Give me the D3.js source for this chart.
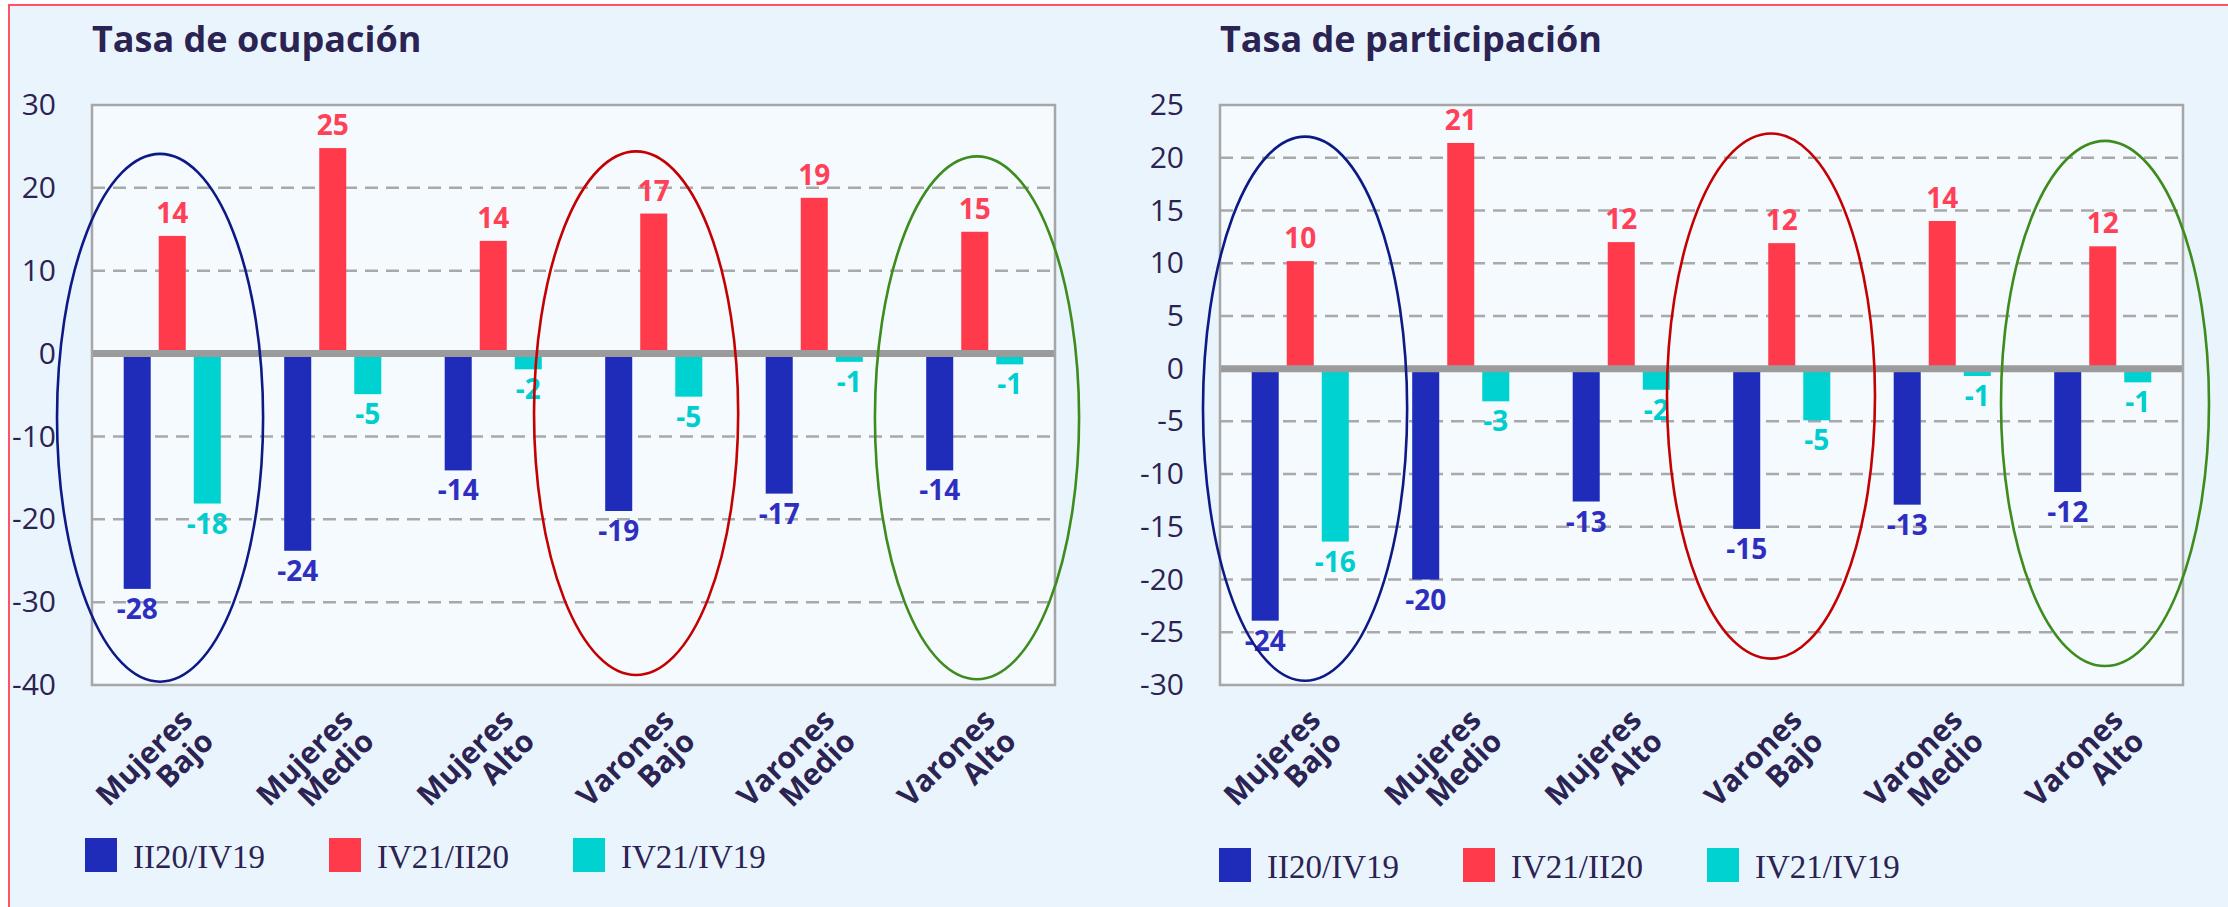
<!DOCTYPE html>
<html><head><meta charset="utf-8">
<script src="https://cdn.jsdelivr.net/npm/d3@7"></script>
<style>
html,body{margin:0;padding:0;background:#ffffff;}
svg{display:block;}
</style></head><body>
<svg id="chart" width="2228" height="907"></svg>
<script>
// ---------- data ----------
const categories = [["Mujeres","Bajo"],["Mujeres","Medio"],["Mujeres","Alto"],["Varones","Bajo"],["Varones","Medio"],["Varones","Alto"]];
const seriesNames = ["II20/IV19","IV21/II20","IV21/IV19"];
const seriesColors = ["#1f2bb9","#ff3b4b","#00d2d2"];
const labelColors = ["#2f2fbf","#ff4157","#00cdcd"];

const ocupTitle = "Tasa de ocupación";
const ocupII20IV19 = [-28.4,-23.8,-14.1,-19.0,-16.9,-14.1];
const ocupIV21II20 = [14.2,24.8,13.6,16.9,18.8,14.7];
const ocupIV21IV19 = [-18.1,-4.9,-1.9,-5.2,-1.0,-1.3];
const ocupTicks = [30,20,10,0,-10,-20,-30,-40];

const partTitle = "Tasa de participación";
const partII20IV19 = [-23.9,-20.0,-12.6,-15.2,-12.9,-11.7];
const partIV21II20 = [10.2,21.4,12.0,11.9,14.0,11.6];
const partIV21IV19 = [-16.4,-3.1,-2.0,-4.9,-0.7,-1.3];
const partTicks = [25,20,15,10,5,0,-5,-10,-15,-20,-25,-30];

// annotation ellipses (category index, shift & half-width as fraction of band, top/bottom in data units)
const ocupEllipses = [
  {cat:0, shift:-0.076, half:0.642, top:24.1, bottom:-39.6, color:"#0d1a85"},
  {cat:3, shift:-0.110, half:0.636, top:24.4, bottom:-38.8, color:"#c40000"},
  {cat:5, shift: 0.014, half:0.636, top:23.8, bottom:-39.3, color:"#3d8c1c"}
];
const partEllipses = [
  {cat:0, shift: 0.030, half:0.636, top:22.0, bottom:-29.6, color:"#0d1a85"},
  {cat:3, shift:-0.067, half:0.648, top:22.3, bottom:-27.5, color:"#c40000"},
  {cat:5, shift: 0.014, half:0.648, top:21.6, bottom:-28.2, color:"#3d8c1c"}
];

// ---------- drawing ----------
const svg = d3.select("#chart");
const FONT = "'Open Sans', 'DejaVu Sans', sans-serif";
const TEXT = "#2b2352";

// frame
svg.append("rect").attr("x",9).attr("y",5).attr("width",2240).attr("height",920)
  .attr("fill","#eaf4fd").attr("stroke","#ff5262").attr("stroke-width",2);

function panel(cfg){
  const g = svg.append("g");
  const series = cfg.series;
  const x0 = d3.scaleBand().domain(d3.range(categories.length)).range([cfg.left,cfg.right]);
  const bw = x0.bandwidth();
  const gw = bw*0.605;
  const x1 = d3.scaleBand().domain(d3.range(series.length)).range([-gw/2,gw/2]).paddingInner(0.2286);
  const y = d3.scaleLinear().domain([cfg.ticks[0], cfg.ticks[cfg.ticks.length-1]]).range([cfg.top,cfg.bottom]);

  // title
  g.append("text").attr("x",cfg.left).attr("y",52).text(cfg.title)
    .attr("font-family",FONT).attr("font-weight",700).attr("font-size",36).attr("fill",TEXT);

  // plot background
  g.append("rect").attr("x",cfg.left).attr("y",cfg.top).attr("width",cfg.right-cfg.left).attr("height",cfg.bottom-cfg.top)
    .attr("fill","#f5faff");

  // grid
  const grid = cfg.ticks.filter((t,i)=> t!==0 && i>0 && i<cfg.ticks.length-1);
  g.selectAll(".grid").data(grid).join("line")
    .attr("x1",cfg.left).attr("x2",cfg.right).attr("y1",d=>y(d)).attr("y2",d=>y(d))
    .attr("stroke","#a9a9a9").attr("stroke-width",2.5).attr("stroke-dasharray","13,8");

  // axis labels
  const axis = d3.axisLeft(y).tickValues(cfg.ticks).tickSize(0).tickPadding(36).tickFormat(d=>String(d));
  const ag = g.append("g").attr("transform",`translate(${cfg.left},0)`).call(axis);
  ag.select(".domain").remove();
  ag.selectAll("text").attr("font-family",FONT).attr("font-size",30).attr("fill",TEXT);

  // bars
  series.forEach((vals,si)=>{
    g.selectAll(".bar"+si).data(vals).join("rect")
      .attr("x",(d,i)=>x0(i)+bw/2+x1(si))
      .attr("width",x1.bandwidth())
      .attr("y",d=>y(Math.max(0,d)))
      .attr("height",d=>Math.abs(y(d)-y(0)))
      .attr("fill",seriesColors[si]);
  });
  // zero line
  g.append("line").attr("x1",cfg.left).attr("x2",cfg.right).attr("y1",y(0)).attr("y2",y(0))
    .attr("stroke","#9b9b9b").attr("stroke-width",7);

  // value labels
  series.forEach((vals,si)=>{
    g.selectAll(".lab"+si).data(vals).join("text")
      .attr("x",(d,i)=>x0(i)+bw/2+x1(si)+x1.bandwidth()/2)
      .attr("y",d=> d>=0 ? y(d)-13 : y(d)+30)
      .attr("text-anchor","middle")
      .attr("font-family",FONT).attr("font-weight",700).attr("font-size",28)
      .attr("fill",labelColors[si])
      .text(d=>String(Math.round(d)));
  });

  // border
  g.append("rect").attr("x",cfg.left).attr("y",cfg.top).attr("width",cfg.right-cfg.left).attr("height",cfg.bottom-cfg.top)
    .attr("fill","none").attr("stroke","#a6a6a6").attr("stroke-width",2.5);

  // category labels
  const cl = g.selectAll(".cat").data(categories).join("text")
    .attr("transform",(d,i)=>`translate(${x0(i)+bw/2+22},${cfg.bottom+37}) rotate(-45)`)
    .attr("text-anchor","end")
    .attr("font-family",FONT).attr("font-weight",700).attr("font-size",30).attr("fill",TEXT);
  cl.each(function(d){
    const t = d3.select(this);
    d.forEach((line,k)=>{
      t.append("tspan").attr("x",0).attr("dy",k===0?0:"1.0em").text(line);
    });
  });

  // ellipses
  g.selectAll(".ell").data(cfg.ellipses).join("ellipse")
    .attr("cx",d=>x0(d.cat)+bw/2+d.shift*bw)
    .attr("rx",d=>d.half*bw)
    .attr("cy",d=>(y(d.top)+y(d.bottom))/2)
    .attr("ry",d=>(y(d.bottom)-y(d.top))/2)
    .attr("fill","none").attr("stroke",d=>d.color).attr("stroke-width",2.6);

  // legend
  const lg = g.selectAll(".leg").data(seriesNames).join("g")
    .attr("transform",(d,i)=>`translate(${cfg.legendX+i*244},${cfg.legendY})`);
  lg.append("rect").attr("width",32).attr("height",34).attr("fill",(d,i)=>seriesColors[i]);
  lg.append("text").attr("x",48).attr("y",30).text(d=>d)
    .attr("font-family","'Liberation Serif', serif").attr("font-size",33).attr("fill",TEXT);
}

panel({title:ocupTitle, series:[ocupII20IV19,ocupIV21II20,ocupIV21IV19], ticks:ocupTicks,
  left:92, right:1055, top:105, bottom:685, legendX:85, legendY:838, ellipses:ocupEllipses});
panel({title:partTitle, series:[partII20IV19,partIV21II20,partIV21IV19], ticks:partTicks,
  left:1220, right:2183, top:105, bottom:685, legendX:1219, legendY:848, ellipses:partEllipses});
</script>
</body></html>
